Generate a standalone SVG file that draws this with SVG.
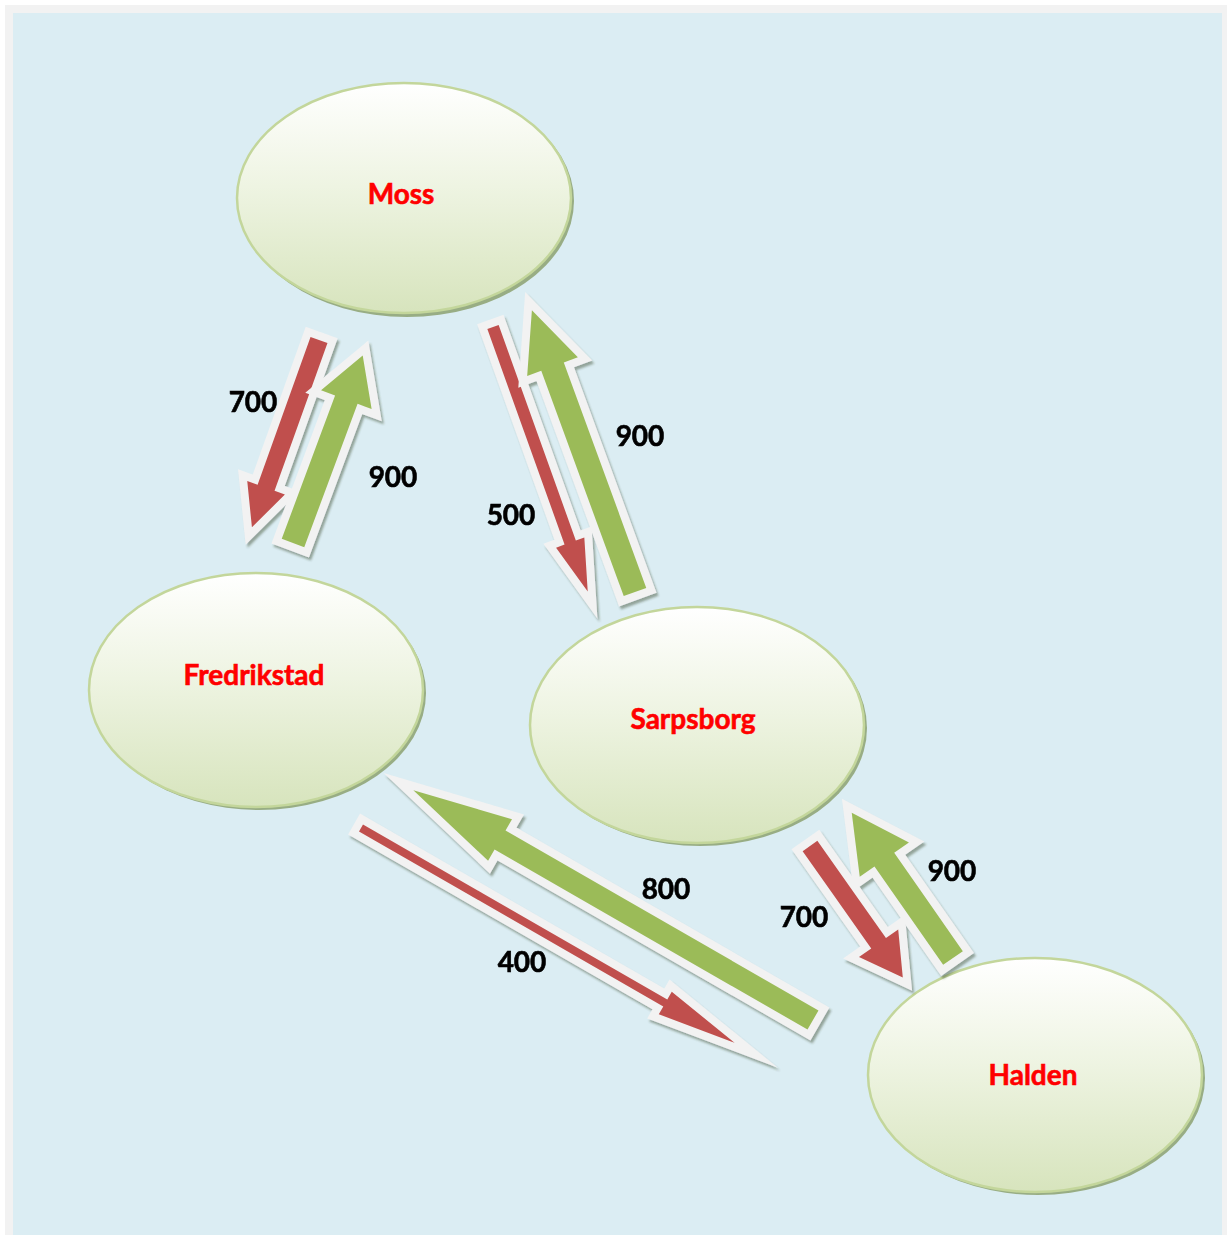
<svg xmlns="http://www.w3.org/2000/svg" width="1227" height="1235" viewBox="0 0 1227 1235">
  <defs>
    <linearGradient id="nodeFill" x1="0" y1="0" x2="0" y2="1">
      <stop offset="0" stop-color="#ffffff"/>
      <stop offset="0.45" stop-color="#eef4e2"/>
      <stop offset="1" stop-color="#d7e4bd"/>
    </linearGradient>
    <filter id="arrowShadow" x="-20%" y="-20%" width="140%" height="140%">
      <feDropShadow dx="2" dy="3" stdDeviation="0.8" flood-color="#3c4a2a" flood-opacity="0.45"/>
    </filter>
    <style>
      .frame { fill: #f2f2f2; }
      .sea { fill: #dbedf3; }
      .node { fill: url(#nodeFill); stroke: #c3d69b; stroke-width: 2.5; }
      .node-shadow { fill: #98ad84; }
      .city { font-family: Lato, "Liberation Sans", sans-serif; font-weight: bold; font-size: 28px; fill: #ff0000; stroke: #ff0000; stroke-width: 0.6; text-anchor: middle; }
      .qty { font-family: Lato, "Liberation Sans", sans-serif; font-weight: bold; font-size: 28px; fill: #000000; stroke: #000000; stroke-width: 0.6; text-anchor: middle; }
      .arrow { stroke: #f2f2f2; stroke-width: 16; stroke-linejoin: miter; stroke-miterlimit: 12; paint-order: stroke; }
      .red { fill: #c0504d; }
      .green { fill: #9bbb59; }
    </style>
  </defs>

  <!-- page and background -->
  <rect class="frame" x="5" y="5" width="1222" height="1230"/>
  <rect class="sea" x="13" y="13" width="1209" height="1222"/>

  <!-- towns -->
  <g id="node-moss">
    <ellipse class="node-shadow" cx="407" cy="201" rx="167" ry="116"/>
    <ellipse class="node" cx="404" cy="198" rx="167" ry="115"/>
    <text class="city" x="401" y="204">Moss</text>
  </g>
  <g id="node-fredrikstad">
    <ellipse class="node-shadow" cx="259" cy="693" rx="167" ry="117"/>
    <ellipse class="node" cx="256" cy="690" rx="167" ry="117"/>
    <text class="city" x="254" y="685">Fredrikstad</text>
  </g>
  <g id="node-sarpsborg">
    <ellipse class="node-shadow" cx="700" cy="728" rx="167" ry="118"/>
    <ellipse class="node" cx="697" cy="725" rx="167" ry="118"/>
    <text class="city" x="693" y="729">Sarpsborg</text>
  </g>
  <g id="node-halden">
    <ellipse class="node-shadow" cx="1038" cy="1078" rx="167" ry="117"/>
    <ellipse class="node" cx="1035" cy="1075" rx="167" ry="117"/>
    <text class="city" x="1033" y="1085">Halden</text>
  </g>

  <!-- flows: block arrows drawn tail-at-origin along +x, then placed -->
  <g id="connectors" filter="url(#arrowShadow)">
    <!-- Moss to Fredrikstad -->
    <path class="arrow red" transform="translate(319,340) rotate(109.7)" d="M0,-9 L157,-9 L157,-20 L199,0 L157,20 L157,9 L0,9 Z"/>
    <!-- Fredrikstad to Moss -->
    <path class="arrow green" transform="translate(293,543) rotate(-69.6)" d="M0,-12 L153,-12 L153,-27 L200,0 L153,27 L153,12 L0,12 Z"/>
    <!-- Moss to Sarpsborg -->
    <path class="arrow red" transform="translate(493,327) rotate(70.3)" d="M0,-6 L229,-6 L229,-15 L281,0 L229,15 L229,6 L0,6 Z"/>
    <!-- Sarpsborg to Moss -->
    <path class="arrow green" transform="translate(635,592) rotate(-110.1)" d="M0,-12 L240,-12 L240,-27 L300,0 L240,27 L240,12 L0,12 Z"/>
    <!-- Fredrikstad to Halden -->
    <path class="arrow red" transform="translate(361,828) rotate(29.9)" d="M0,-4 L351,-4 L351,-13 L431,0 L351,13 L351,4 L0,4 Z"/>
    <!-- Halden to Fredrikstad -->
    <path class="arrow green" transform="translate(813,1020) rotate(-150.1)" d="M0,-11 L361,-11 L361,-24 L461,0 L361,24 L361,11 L0,11 Z"/>
    <!-- Sarpsborg to Halden -->
    <path class="arrow red" transform="translate(810,846) rotate(54.8)" d="M0,-9 L119,-9 L119,-24 L161,0 L119,24 L119,9 L0,9 Z"/>
    <!-- Halden to Sarpsborg -->
    <path class="arrow green" transform="translate(953,958) rotate(-124.9)" d="M0,-12 L120,-12 L120,-30 L177,0 L120,30 L120,12 L0,12 Z"/>
  </g>

  <!-- quantities -->
  <g id="labels">
    <text class="qty" x="253" y="412">700</text>
    <text class="qty" x="393" y="487">900</text>
    <text class="qty" x="640" y="446">900</text>
    <text class="qty" x="511" y="525">500</text>
    <text class="qty" x="666" y="899">800</text>
    <text class="qty" x="522" y="972">400</text>
    <text class="qty" x="804" y="927">700</text>
    <text class="qty" x="952" y="881">900</text>
  </g>
</svg>
